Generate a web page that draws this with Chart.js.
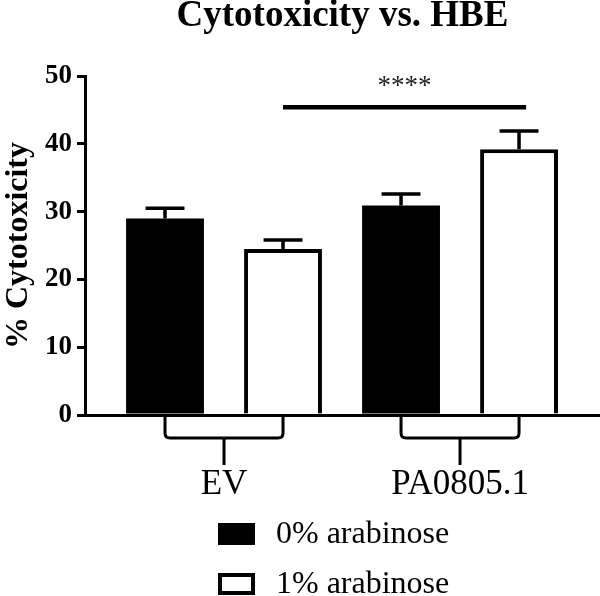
<!DOCTYPE html>
<html>
<head>
<meta charset="utf-8">
<script src="https://cdn.jsdelivr.net/npm/chart.js@4.4.0/dist/chart.umd.min.js"></script>
<style>
  html, body { margin: 0; padding: 0; background: #fff; }
  canvas { display: block; }
</style>
</head>
<body>
<canvas id="myChart" width="600" height="596"></canvas>
<script>
// datos
const grupos = ['EV', 'PA0805.1']
const posiciones = [0, 1]
const series = ['0% arabinose', '1% arabinose']
const valores0 = [29.0, 30.9]
const valores1 = [24.5, 39.2]
const errores0 = [1.5, 1.7]
const errores1 = [1.3, 2.7]
const ticksY = [0, 10, 20, 30, 40, 50]

// linea de significancia (en unidades de los ejes)
const signifDesde = 0.25
const signifHasta = 1.28
const signifValor = 45.4
const signifTexto = '****'

const fuente = 'Liberation Serif'

function puntos(valores) {
    return posiciones.map((p, i) => ({ x: p, y: valores[i] }))
}

const extras = {
    id: 'extras',
    // barras de error (solo hacia arriba)
    afterDatasetsDraw(chart) {
        const ctx = chart.ctx
        const y = chart.scales.y
        ctx.save()
        ctx.strokeStyle = '#000'
        ctx.lineWidth = 3.5
        chart.data.datasets.forEach((ds, i) => {
            chart.getDatasetMeta(i).data.forEach((bar, j) => {
                const tope = y.getPixelForValue(ds.data[j].y + ds.errores[j])
                const mitad = bar.width / 4
                ctx.beginPath()
                ctx.moveTo(bar.x, bar.y)
                ctx.lineTo(bar.x, tope)
                ctx.moveTo(bar.x - mitad, tope)
                ctx.lineTo(bar.x + mitad, tope)
                ctx.stroke()
            })
        })
        ctx.restore()
    },
    afterDraw(chart) {
        const ctx = chart.ctx
        const x = chart.scales.x
        const y = chart.scales.y
        const m0 = chart.getDatasetMeta(0).data
        const m1 = chart.getDatasetMeta(1).data
        ctx.save()
        ctx.strokeStyle = '#000'

        // llaves debajo de cada grupo
        ctx.lineWidth = 3
        const yIni = x.top + 2
        const yLlave = x.top + 23
        const yTallo = x.top + 50
        const r = 5
        posiciones.forEach((p, j) => {
            const xa = m0[j].x
            const xb = m1[j].x
            const xc = (xa + xb) / 2
            ctx.beginPath()
            ctx.moveTo(xa, yIni)
            ctx.lineTo(xa, yLlave - r)
            ctx.quadraticCurveTo(xa, yLlave, xa + r, yLlave)
            ctx.lineTo(xb - r, yLlave)
            ctx.quadraticCurveTo(xb, yLlave, xb, yLlave - r)
            ctx.lineTo(xb, yIni)
            ctx.moveTo(xc, yLlave)
            ctx.lineTo(xc, yTallo)
            ctx.stroke()
        })

        // linea de significancia
        const x1 = x.getPixelForValue(signifDesde)
        const x2 = x.getPixelForValue(signifHasta)
        const ys = y.getPixelForValue(signifValor)
        ctx.lineWidth = 4.5
        ctx.beginPath()
        ctx.moveTo(x1, ys)
        ctx.lineTo(x2, ys)
        ctx.stroke()
        ctx.fillStyle = '#222'
        ctx.font = '27px "' + fuente + '"'
        ctx.textAlign = 'center'
        ctx.textBaseline = 'middle'
        ctx.fillText(signifTexto, (x1 + x2) / 2, ys - 20)

        // leyenda
        ctx.textAlign = 'left'
        ctx.font = '32px "' + fuente + '"'
        chart.data.datasets.forEach((ds, i) => {
            const bx = 218
            const by = 523 + i * 50
            ctx.fillStyle = ds.backgroundColor
            ctx.fillRect(bx, by, 37, 22)
            ctx.lineWidth = 4
            ctx.strokeRect(bx + 2, by + 2, 33, 18)
            ctx.fillStyle = '#000'
            ctx.fillText(ds.label, 276, by + 12)
        })
        ctx.restore()
    }
}

const ctx = document.getElementById('myChart')

new Chart(ctx, {
    type: 'bar',
    data: {
        datasets: [{
            label: series[0],
            data: puntos(valores0),
            errores: errores0,
            backgroundColor: '#000',
            borderWidth: 0
        },
        {
            label: series[1],
            data: puntos(valores1),
            errores: errores1,
            backgroundColor: '#fff',
            borderColor: '#000',
            borderWidth: 4
        }]
    },
    options: {
        responsive: false,
        animation: false,
        categoryPercentage: 1,
        barPercentage: 0.66,
        layout: { padding: { top: 0, left: 0, right: 0, bottom: 41 } },
        scales: {
            x: {
                type: 'linear',
                offset: false,
                min: -0.589,
                max: 1.593,
                afterBuildTicks: axis => { axis.ticks = posiciones.map(v => ({ value: v })) },
                grid: { display: false, drawTicks: false, offset: false },
                border: { display: true, color: '#000', width: 3 },
                ticks: {
                    padding: 49,
                    color: '#000',
                    maxRotation: 0,
                    font: { family: fuente, size: 35, lineHeight: 1.2 },
                    callback: v => grupos[posiciones.indexOf(v)]
                }
            },
            y: {
                min: 0,
                max: 50,
                afterBuildTicks: axis => { axis.ticks = ticksY.map(v => ({ value: v })) },
                afterFit: axis => { axis.width = 85 },
                grid: { drawOnChartArea: false, drawTicks: true, tickLength: 8, color: '#000', lineWidth: 3 },
                border: { display: true, color: '#000', width: 3 },
                ticks: {
                    padding: 5,
                    color: '#000',
                    font: { family: fuente, size: 27, weight: 'bold' }
                },
                title: {
                    display: true,
                    text: '% Cytotoxicity',
                    color: '#000',
                    font: { family: fuente, size: 32, weight: 'bold', lineHeight: 1 },
                    padding: { top: 3, bottom: 0 }
                }
            }
        },
        plugins: {
            legend: { display: false },
            tooltip: { enabled: false },
            title: {
                display: true,
                fullSize: false,
                text: 'Cytotoxicity vs. HBE',
                color: '#000',
                font: { family: fuente, size: 37, weight: 'bold', lineHeight: 0.9 },
                padding: { top: 0, bottom: 42.7 }
            }
        }
    },
    plugins: [extras]
})
</script>
</body>
</html>
